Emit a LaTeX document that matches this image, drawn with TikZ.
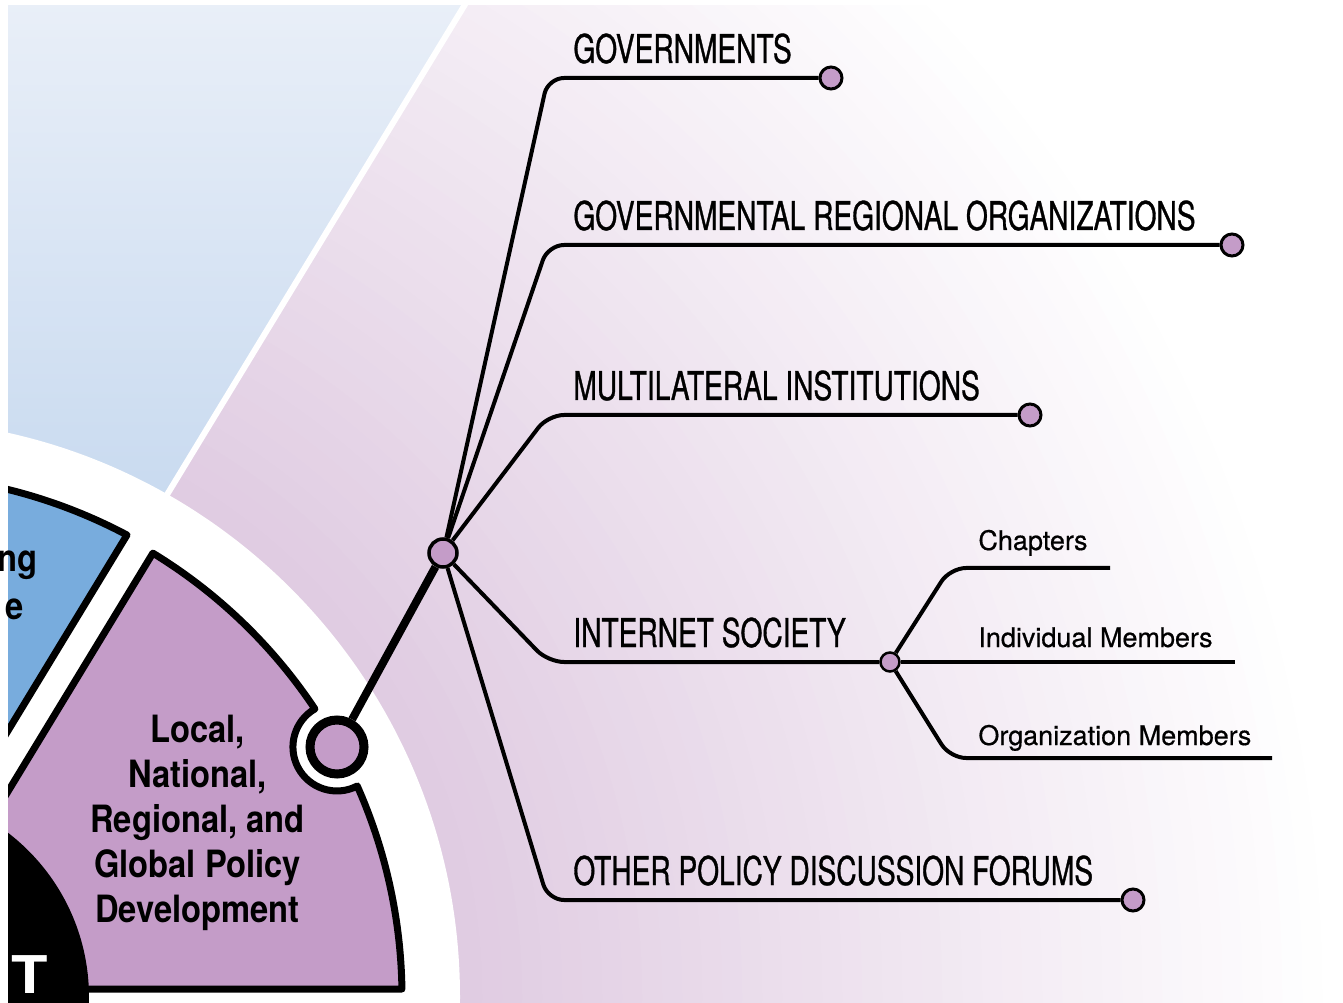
\documentclass[tikz,border=0pt]{standalone}
\usepackage{fontspec}
\usepackage{tikz}
\usetikzlibrary{backgrounds,calc,positioning}
\newfontfamily\lblfont[FakeStretch=0.71,FakeBold=0.8]{TeX Gyre Heros}
\newfontfamily\subfont[FakeBold=0.5]{TeX Gyre Heros}
\newfontfamily\sectfont[FakeStretch=0.87]{TeX Gyre Heros}
\newfontfamily\corefont[FakeStretch=1.15]{TeX Gyre Heros}
\definecolor{sectpink}{HTML}{C49CC8}
\definecolor{sectblue}{HTML}{78ACDD}
\definecolor{bgpink}{HTML}{E0CCE2}
\definecolor{bgbluetop}{HTML}{E9EFF8}
\definecolor{bgbluebot}{HTML}{C2D6EE}

\begin{document}
\begin{tikzpicture}[x=0.5pt, y=0.5pt,
  dot/.style = {circle, draw=black, fill=sectpink, line width=1.5pt, minimum size=11pt, inner sep=0pt},
  hubdot/.style = {dot, line width=1.75pt, minimum size=14pt},
  bigdot/.style = {dot, line width=4.5pt, minimum size=27pt},
  subdot/.style = {dot, line width=1.25pt, minimum size=9.5pt},
  lbl/.style = {anchor=base west, inner sep=0pt, font=\lblfont\fontsize{19.8}{22}\selectfont},
  sublbl/.style = {anchor=base west, inner sep=0pt, font=\subfont\fontsize{13.5}{15}\selectfont},
  secttxt/.style = {inner sep=0pt, font=\sectfont\bfseries\fontsize{18.8}{22.5}\selectfont},
  branch/.style = {line width=2pt, rounded corners=8pt},
  sector/.style = {draw=black, line width=3.5pt, line join=round}]
\useasboundingbox (0,0) rectangle (1343,1002);
\coordinate (C) at (-118,5);

\node[bigdot] (policy) at (337,255) {};
\node[hubdot] (hub) at (443,449) {};
\node[dot] (gov) at (831,924) {};
\node[dot] (reg) at (1232,757) {};
\node[dot] (multi) at (1030,587) {};
\node[subdot] (isoc) at (890,340) {};
\node[dot] (other) at (1133,102) {};
\coordinate (chapend) at (1110,434);
\coordinate (indivend) at (1235,340);
\coordinate (orgend) at (1272,244);

\node[lbl] (govlbl) at (573,939) {GOVERNMENTS};
\node[lbl] (reglbl) at (573,772) {GOVERNMENTAL REGIONAL ORGANIZATIONS};
\node[lbl] (multilbl) at (573,602) {MULTILATERAL INSTITUTIONS};
\node[lbl] (isoclbl) at (573,355) {INTERNET SOCIETY};
\node[lbl] (otherlbl) at (573,117) {OTHER POLICY DISCUSSION FORUMS};
\node[sublbl] (chaplbl) at (978,452) {Chapters};
\node[sublbl] (indivlbl) at (978,355) {Individual Members};
\node[sublbl] (orglbl) at (978,257) {Organization Members};

\node[secttxt, align=center] (policytxt) at (197.5,179.5) {Local,\\National,\\Regional, and\\Global Policy\\Development};
\node[secttxt, anchor=base east] (bluetxta) at (38,430) {ng};
\node[secttxt, anchor=base east] (bluetxtb) at (24,382) {e};
\node[anchor=base east, inner sep=0pt, text=white, font=\corefont\bfseries\fontsize{26}{28}\selectfont] (coretxt) at (48,9) {T};

\begin{scope}[on background layer]
\clip (8,0) rectangle (1343,996);
\fill[white] (0,0) rectangle (1343,1002);
\foreach \r in {1460,1440,...,580} {
  \pgfmathsetmacro\p{max(0,min(100,(1460-\r)/8.6))}
  \fill[bgpink!\p!white] (C) circle (\r);
}
\shade[top color=bgbluetop, bottom color=bgbluebot] (0,1002) -- (468,1002) -- (101.9,400) -- (0,400) -- cycle;
\fill[white] (C) circle (578);
\draw[white, line width=3pt] (165,504) -- (475,1014);

\draw[sector, fill=sectblue] (-55.4,167) -- (127,467) arc[start angle=62.06, end angle=120, radius=522] -- ($(C)+(120:150)$) -- cycle;
\draw[sector, fill=sectpink] ($(C)+(0.88:520)$) arc[start angle=0.88, end angle=23.94, radius=520]
  arc[start angle=-62.5, end angle=-239.9, radius=44]
  arc[start angle=33.64, end angle=58.6, radius=520] -- (-29.4,149) -- (60,13) -- cycle;
\fill[black] (C) circle (207);

\draw[line width=4pt] (policy) -- (hub);
\draw[branch] (hub) -- (548,924) -- (gov);
\draw[branch] (hub) -- (548,757) -- (reg);
\draw[branch] (hub) -- (548,587) -- (multi);
\draw[branch] (hub) -- (548,340) -- (isoc);
\draw[branch] (hub) -- (548,102) -- (other);
\draw[branch] (isoc) -- (950,434) -- (chapend);
\draw[branch] (isoc) -- (indivend);
\draw[branch] (isoc) -- (950,244) -- (orgend);
\end{scope}
\end{tikzpicture}
\end{document}
